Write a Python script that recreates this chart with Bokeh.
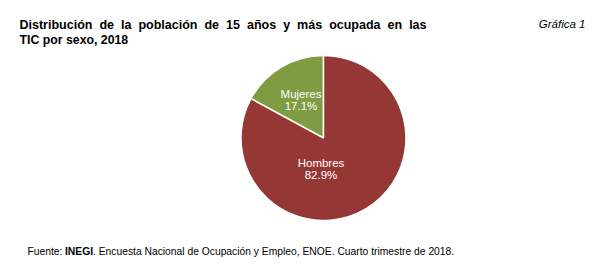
import math
from bokeh.plotting import figure
from bokeh.models import Range1d
from bokeh.core.properties import value
from bokeh.embed import file_html
from bokeh.resources import INLINE

# data
categories = ["Mujeres", "Hombres"]
shares = [17.1, 82.9]
colors = ["#7F9C43", "#953735"]
pct_labels = ["17.1%", "82.9%"]

title_line1 = "Distribución de la población de 15 años y más ocupada en las"
title_line2 = "TIC por sexo, 2018"
tag = "Gráfica 1"
src_parts = ["Fuente: ", "INEGI", ". Encuesta Nacional de Ocupación y Empleo, ENOE. Cuarto trimestre de 2018."]

FONT = "Liberation Sans"

# Approximate advance widths (per 1000 em) of Liberation Sans Bold, used to justify line 1
BOLD_W = {"D": 722, "i": 278, "s": 556, "t": 333, "r": 389, "b": 611, "u": 611, "c": 556,
          "ó": 611, "n": 611, "d": 611, "e": 556, "l": 278, "a": 556, "p": 611, "o": 611,
          "1": 556, "5": 556, "ñ": 611, "y": 556, "m": 889, "á": 556}

W, H = 598, 277
p = figure(width=W, height=H, output_backend="svg", toolbar_location=None,
           x_range=Range1d(0, W), y_range=Range1d(H, 0),
           min_border=0, outline_line_color=None)
p.axis.visible = False
p.grid.visible = False
p.background_fill_color = "white"

# pie
cx, cy, r = 323, 137.5, 82.5
start = math.pi / 2
starts, ends = [], []
total = sum(shares)
for s in shares:
    e = start + 2 * math.pi * s / total
    starts.append(start)
    ends.append(e)
    start = e
p.wedge(x=cx, y=cy, radius=r, start_angle=starts, end_angle=ends,
        direction="anticlock",
        fill_color=colors, line_color="white", line_width=1.5)

# slice labels (name line, value line)
name_pos = [(300.5, 93), (320.5, 162)]
pct_pos = [(300.5, 105.5), (320.5, 174)]
for (nx, ny), (vx, vy), nm, pc in zip(name_pos, pct_pos, categories, pct_labels):
    p.text(x=[nx, vx], y=[ny, vy], text=[nm, pc], text_color="white", text_align="center",
           text_baseline="alphabetic", text_font=value(FONT), text_font_size="11.5px")

# title line 1, justified between x0 and x1
fs = 12.5
x0, x1 = 19, 426
words = title_line1.split(" ")
widths = [sum(BOLD_W.get(ch, 556) for ch in w) * fs / 1000 for w in words]
gap = (x1 - x0 - sum(widths)) / (len(words) - 1)
xs, x = [], x0
for wdt in widths:
    xs.append(x)
    x += wdt + gap
p.text(x=xs, y=[24] * len(words), text=words, text_font=value(FONT),
       text_font_style="bold", text_font_size=f"{fs}px", text_baseline="alphabetic",
       text_color="#000000")
p.text(x=[19], y=[39.5], text=[title_line2], text_font=value(FONT),
       text_font_style="bold", text_font_size="12.3px", text_baseline="alphabetic",
       text_color="#000000")

p.text(x=[585], y=[23.3], text=[tag], text_font=value(FONT), text_font_style="italic",
       text_font_size="11.5px", text_baseline="alphabetic", text_align="right",
       text_color="#000000")

# source
p.text(x=[27], y=[251], text=[src_parts[0]], text_font=value(FONT), text_font_size="10.3px",
       text_baseline="alphabetic", text_color="#000000")
p.text(x=[64.5], y=[251], text=[src_parts[1]], text_font=value(FONT), text_font_size="10.3px",
       text_font_style="bold", text_baseline="alphabetic", text_color="#000000")
p.text(x=[92.5], y=[251], text=[src_parts[2]], text_font=value(FONT), text_font_size="10.3px",
       text_baseline="alphabetic", text_color="#000000")

open("out.html", "w").write(file_html(p, INLINE))
